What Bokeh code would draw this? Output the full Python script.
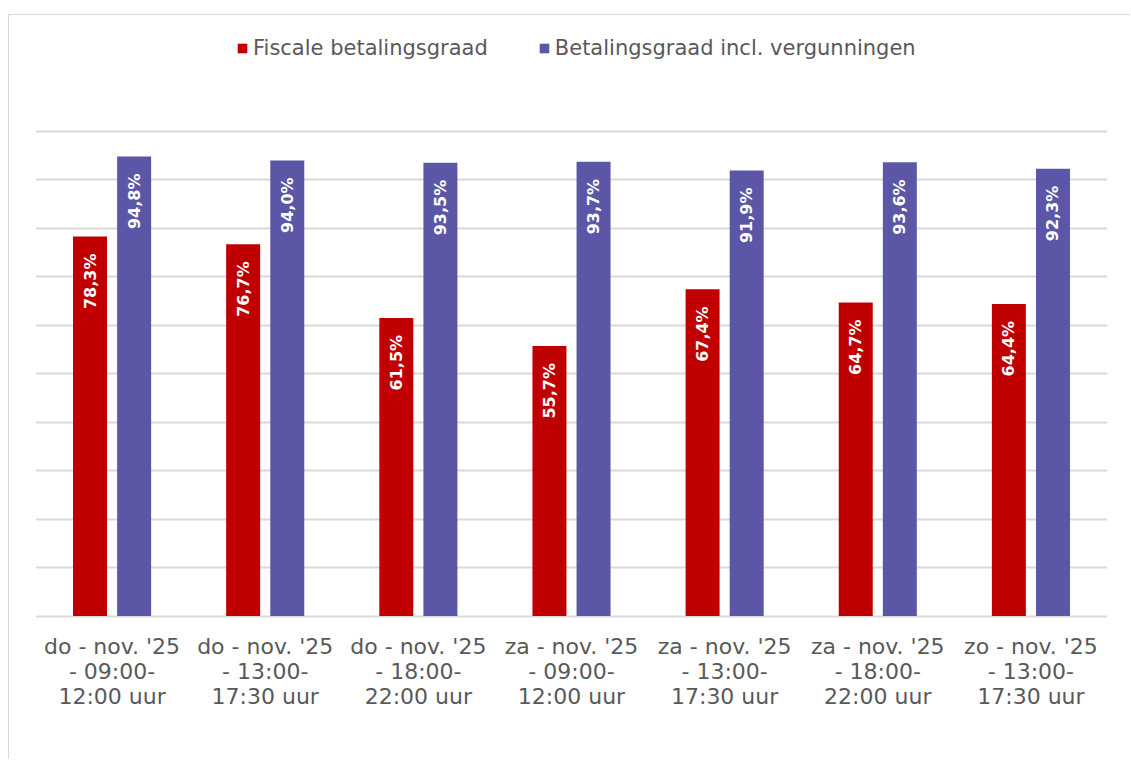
import math
from bokeh.plotting import figure
from bokeh.models import ColumnDataSource, Legend, LegendItem, FixedTicker
from bokeh.transform import dodge
from bokeh.core.properties import value
from bokeh.embed import file_html
from bokeh.resources import INLINE

categories = [
    "do - nov. '25\n- 09:00-\n12:00 uur",
    "do - nov. '25\n- 13:00-\n17:30 uur",
    "do - nov. '25\n- 18:00-\n22:00 uur",
    "za - nov. '25\n- 09:00-\n12:00 uur",
    "za - nov. '25\n- 13:00-\n17:30 uur",
    "za - nov. '25\n- 18:00-\n22:00 uur",
    "zo - nov. '25\n- 13:00-\n17:30 uur",
]
fiscale = [78.3, 76.7, 61.5, 55.7, 67.4, 64.7, 64.4]
incl_vergunningen = [94.8, 94.0, 93.5, 93.7, 91.9, 93.6, 92.3]
series_names = ["Fiscale betalingsgraad", "Betalingsgraad incl. vergunningen"]
grid_ticks = [0, 10, 20, 30, 40, 50, 60, 70, 80, 90, 100]

RED = "#C00000"
BLUE = "#5B57A6"
TXT = "#595959"
GRID = "#D9D9D9"
FONT = "DejaVu Sans"

def fmt(v):
    return f"{v:.1f}".replace(".", ",") + "%"

src = ColumnDataSource(dict(
    cat=categories,
    fis=fiscale,
    inc=incl_vergunningen,
    fis_lbl=[fmt(v) for v in fiscale],
    inc_lbl=[fmt(v) for v in incl_vergunningen],
))

# frame extends upward to hold the legend; 100 % stays at the top gridline
p = figure(
    x_range=categories, y_range=(-0.5, 120.8),
    width=1122, height=745,
    output_backend="svg", toolbar_location=None,
    min_border_left=26, min_border_right=24,
    min_border_top=15, min_border_bottom=142,
)
p.styles = {"border-left": "1px solid #D9D9D9", "border-top": "1px solid #D9D9D9",
            "margin-top": "14px", "margin-left": "8px"}
p.outline_line_color = None
p.background_fill_color = "white"
p.border_fill_color = "white"

off = 0.144
bw = 0.222
r1 = p.vbar(x=dodge("cat", -off, range=p.x_range), top="fis", width=bw, source=src,
            fill_color=RED, line_color=None)
r2 = p.vbar(x=dodge("cat", off, range=p.x_range), top="inc", width=bw, source=src,
            fill_color=BLUE, line_color=None)

for col, lbl, o in (("fis", "fis_lbl", -off), ("inc", "inc_lbl", off)):
    p.text(x=dodge("cat", o, range=p.x_range), y=col, text=lbl, source=src,
           angle=math.pi / 2, text_align="right", text_baseline="middle",
           y_offset=17, text_color="white", text_font=value(FONT),
           text_font_style="bold", text_font_size="16px")

p.yaxis.visible = False
p.ygrid.ticker = FixedTicker(ticks=grid_ticks)
p.ygrid.grid_line_color = GRID
p.ygrid.grid_line_width = 2
p.xgrid.grid_line_color = None

p.xaxis.axis_line_color = None
p.xaxis.major_tick_line_color = None
p.xaxis.minor_tick_line_color = None
p.xaxis.major_label_text_font = FONT
p.xaxis.major_label_text_font_size = "22px"
p.xaxis.major_label_text_color = TXT
p.xaxis.major_label_standoff = 9
p.xaxis.major_label_text_line_height = 1.0

legend = Legend(
    items=[LegendItem(label=series_names[0], renderers=[r1]),
           LegendItem(label=series_names[1], renderers=[r2])],
    orientation="horizontal", location=(201, 558),
    glyph_width=12, glyph_height=12, label_standoff=5, spacing=50,
    label_text_font=FONT, label_text_font_size="21px", label_text_color=TXT,
    border_line_color=None, background_fill_alpha=0,
    padding=0, margin=0,
)
p.add_layout(legend, "center")

open("out.html", "w").write(file_html(p, INLINE))
